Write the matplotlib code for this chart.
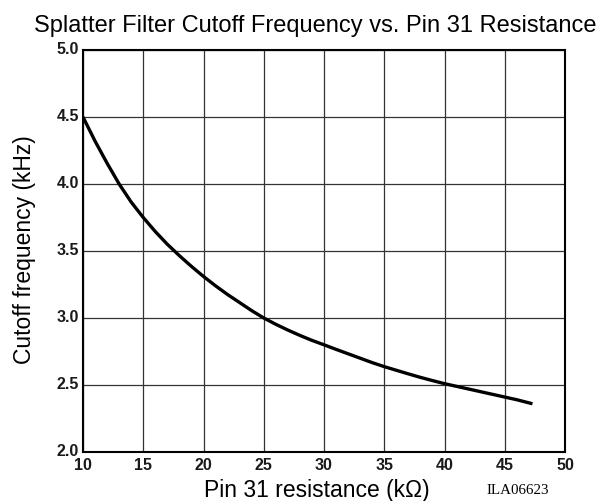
import matplotlib
matplotlib.use("Agg")
import matplotlib.pyplot as plt
import matplotlib.transforms as mtransforms

resistance_kohm = [10, 11, 12, 13, 14, 15, 16, 17, 18, 19, 20, 21, 22, 23, 24, 25,
                   26, 27, 28, 29, 30, 31, 32, 33, 34, 35, 36, 37, 38, 39, 40,
                   41, 42, 43, 44, 45, 46, 47.3]
cutoff_khz = [4.50, 4.32, 4.155, 4.00, 3.865, 3.75, 3.645, 3.55, 3.465, 3.385, 3.31,
              3.24, 3.175, 3.115, 3.055, 3.00, 2.953, 2.91, 2.87, 2.833, 2.80,
              2.766, 2.733, 2.70, 2.667, 2.637, 2.61, 2.583, 2.557, 2.533, 2.51,
              2.49, 2.47, 2.45, 2.43, 2.41, 2.39, 2.36]

x_ticks = [10, 15, 20, 25, 30, 35, 40, 45, 50]
y_ticks = [2.0, 2.5, 3.0, 3.5, 4.0, 4.5, 5.0]
y_tick_labels = ["2.0", "2.5", "3.0", "3.5", "4.0", "4.5", "5.0"]

title = "Splatter Filter Cutoff Frequency vs. Pin 31 Resistance"
xlabel = "Pin 31 resistance (k\u03a9)"
ylabel = "Cutoff frequency (kHz)"
code = "ILA06623"

plt.rcParams['font.family'] = ['Liberation Sans', 'DejaVu Sans']

fig = plt.figure(figsize=(6.02, 5.01), dpi=100)
ax = fig.add_axes([83/602, 1 - 452/501, (565 - 83)/602, (452 - 50)/501])

ax.plot(resistance_kohm, cutoff_khz, color='black', lw=2.4, solid_capstyle='butt',
        solid_joinstyle='round', zorder=3)

ax.set_xlim(10, 50)
ax.set_ylim(2.0, 5.0)
ax.set_xticks(x_ticks)
ax.set_yticks(y_ticks)
ax.set_yticklabels(y_tick_labels)
ax.grid(True, color='#333333', lw=0.9)
ax.tick_params(length=0, labelsize=11.5)
ax.tick_params(axis='x', pad=4.5)
ax.tick_params(axis='y', pad=3)
for lab in ax.get_xticklabels() + ax.get_yticklabels():
    lab.set_color('#1a1a1a')
    lab.set_fontweight('bold')
offset = mtransforms.ScaledTranslation(0, 2/100, fig.dpi_scale_trans)
for lab in ax.get_yticklabels():
    lab.set_transform(lab.get_transform() + offset)
for s in ax.spines.values():
    s.set_linewidth(1.5)

fig.text(315/602, 1 - 32/501, title, ha='center', va='baseline', fontsize=17)
fig.text(317/602, 1 - 490/501, xlabel, ha='center', va='center', fontsize=16.5)
fig.text(25/602, 1 - 250/501, ylabel, ha='center', va='center', fontsize=16.5,
         rotation=90)
fig.text(518/602, 1 - 491/501, code, ha='center', va='center', fontsize=10.8,
         family='Liberation Serif')

fig.savefig("out.png", dpi=100)
